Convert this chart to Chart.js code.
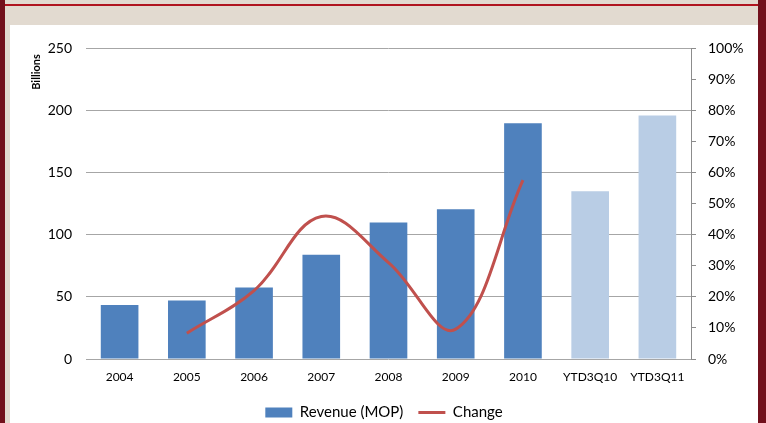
<!DOCTYPE html>
<html>
<head>
<meta charset="utf-8">
<script src="https://cdn.jsdelivr.net/npm/chart.js@4.4.1/dist/chart.umd.min.js"></script>
<style>
  html, body { margin: 0; padding: 0; }
  body { width: 766px; height: 423px; background: #72101c; position: relative; overflow: hidden; }
  #frame { position: absolute; left: 5px; top: 0; width: 753px; height: 423px; background: #e2dad0; }
  #rule { position: absolute; left: 0; top: 4px; width: 753px; height: 2px; background: #b0141f; }
  #box { position: absolute; left: 5px; top: 25px; width: 748px; height: 398px; background: #ffffff; overflow: hidden; }
  canvas { display: block; }
</style>
</head>
<body>
<div id="frame">
  <div id="rule"></div>
  <div id="box"><canvas id="c" width="748" height="405"></canvas></div>
</div>
<script>
// Gaming revenue by period (MOP billions) and year-on-year change
const categories = ['2004', '2005', '2006', '2007', '2008', '2009', '2010', 'YTD3Q10', 'YTD3Q11'];
const revenue = [43.5, 47.1, 57.5, 83.8, 109.8, 120.4, 189.6, 134.9, 195.7];
const change = [null, 0.083, 0.220, 0.458, 0.310, 0.096, 0.575, null, null];
const barColors = ['#4f81bd', '#4f81bd', '#4f81bd', '#4f81bd', '#4f81bd', '#4f81bd', '#4f81bd', '#b9cde5', '#b9cde5'];
const leftTicks = [0, 50, 100, 150, 200, 250];
const rightTicks = [0, 0.1, 0.2, 0.3, 0.4, 0.5, 0.6, 0.7, 0.8, 0.9, 1.0];

const FONT = 'Lato, "Open Sans", sans-serif';
const GRID = '#a6a6a6';
const AXIS = '#8c8c8c';

// Rotated unit caption near the top of the left axis
const unitCaption = {
  id: 'unitCaption',
  afterDraw(chart) {
    const ctx = chart.ctx;
    ctx.save();
    ctx.translate(26, 47);
    ctx.rotate(-Math.PI / 2);
    ctx.font = 'bold 11px ' + FONT;
    ctx.fillStyle = '#000';
    ctx.textAlign = 'center';
    ctx.textBaseline = 'middle';
    ctx.fillText('Billions', 0, 0);
    ctx.restore();
  }
};

new Chart(document.getElementById('c'), {
  data: {
    labels: categories,
    datasets: [
      {
        type: 'line',
        label: 'Change',
        data: change,
        yAxisID: 'y1',
        borderColor: '#c0504d',
        borderWidth: 3,
        pointRadius: 0,
        tension: 0.38,
        fill: false,
        order: 0
      },
      {
        type: 'bar',
        label: 'Revenue (MOP)',
        data: revenue,
        yAxisID: 'y',
        backgroundColor: barColors,
        borderWidth: 0,
        barPercentage: 0.56,
        categoryPercentage: 1.0,
        order: 1
      }
    ]
  },
  options: {
    responsive: false,
    animation: false,
    devicePixelRatio: 1,
    layout: { padding: { top: 23, left: 0, right: 0, bottom: 0 } },
    plugins: {
      tooltip: { enabled: false },
      legend: {
        position: 'bottom',
        labels: {
          font: { family: FONT, size: 15 },
          color: '#000',
          usePointStyle: true,
          pointStyleWidth: 27,
          boxHeight: 10,
          padding: 15,
          generateLabels() {
            return [
              { text: 'Revenue (MOP)', fillStyle: '#4f81bd', strokeStyle: '#4f81bd', lineWidth: 0, pointStyle: 'rect', datasetIndex: 1 },
              { text: 'Change', fillStyle: '#c0504d', strokeStyle: '#c0504d', lineWidth: 3, pointStyle: 'line', datasetIndex: 0 }
            ];
          }
        }
      }
    },
    scales: {
      x: {
        grid: { display: false, drawTicks: false },
        border: { display: false },
        ticks: { font: { family: FONT, size: 12 }, color: '#000', padding: 11, maxRotation: 0, autoSkip: false },
        afterFit(s) { s.height = 31; }
      },
      y: {
        position: 'left',
        min: 0, max: 250,
        afterBuildTicks(s) { s.ticks = leftTicks.map(v => ({ value: v })); },
        grid: { color: GRID, lineWidth: 1, drawTicks: false },
        border: { display: false },
        ticks: { font: { family: FONT, size: 14 }, color: '#000', padding: 14 },
        afterFit(s) { s.width = 76; }
      },
      y1: {
        position: 'right',
        min: 0, max: 1,
        afterBuildTicks(s) { s.ticks = rightTicks.map(v => ({ value: v })); },
        grid: { drawOnChartArea: false, drawTicks: true, tickLength: 5, color: AXIS },
        border: { display: true, color: AXIS, width: 1 },
        ticks: {
          font: { family: FONT, size: 14 }, color: '#000', padding: 12,
          callback: v => Math.round(v * 100) + '%'
        },
        afterFit(s) { s.width = 67; }
      }
    }
  },
  plugins: [unitCaption]
});
</script>
</body>
</html>
